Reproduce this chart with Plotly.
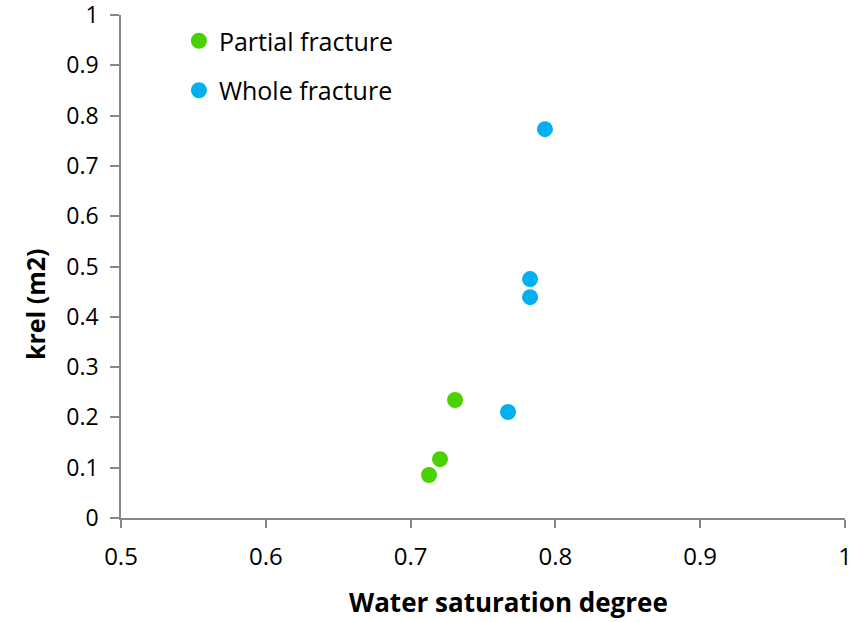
import plotly.graph_objects as go

partial_x = [0.7127, 0.7203, 0.7307]
partial_y = [0.0855, 0.117, 0.2346]
whole_x = [0.7673, 0.7825, 0.7825, 0.7928]
whole_y = [0.2107, 0.439, 0.475, 0.773]
x_ticks = [0.5, 0.6, 0.7, 0.8, 0.9, 1.0]
x_labels = ["0.5", "0.6", "0.7", "0.8", "0.9", "1"]
y_ticks = [0, 0.1, 0.2, 0.3, 0.4, 0.5, 0.6, 0.7, 0.8, 0.9, 1.0]
y_labels = ["0", "0.1", "0.2", "0.3", "0.4", "0.5", "0.6", "0.7", "0.8", "0.9", "1"]
x_title = "Water saturation degree"
y_title = "krel (m2)"

font = "Open Sans, Noto Sans, sans-serif"
axcol = "#868686"

fig = go.Figure()
fig.add_trace(go.Scatter(x=partial_x, y=partial_y, mode="markers", name="Partial fracture",
                         legendgroup="a",
                         marker=dict(color="#4BD000", size=16, line=dict(width=0))))
fig.add_trace(go.Scatter(x=whole_x, y=whole_y, mode="markers", name="Whole fracture",
                         legendgroup="b",
                         marker=dict(color="#00B0F0", size=16, line=dict(width=0))))

fig.update_layout(
    width=852, height=622,
    margin=dict(l=121, r=7, t=15, b=104),
    plot_bgcolor="white", paper_bgcolor="white",
    font=dict(family=font, size=24, color="black"),
    showlegend=True,
    legend=dict(x=0.08, y=0.994, xanchor="left", yanchor="top",
                font=dict(size=25, family=font), tracegroupgap=14,
                bgcolor="rgba(0,0,0,0)"),
    xaxis=dict(range=[0.5, 1.0], tickvals=x_ticks, ticktext=x_labels, automargin=False,
               showgrid=False, zeroline=False, showline=True, linecolor=axcol, linewidth=1.5,
               ticks="outside", tickcolor=axcol, ticklen=8, tickwidth=1.5,
               ticklabelstandoff=8, ticklabeloverflow="allow"),
    yaxis=dict(range=[0, 1.0], tickvals=y_ticks, ticktext=y_labels, automargin=False,
               showgrid=False, zeroline=False, showline=True, linecolor=axcol, linewidth=1.5,
               ticks="outside", tickcolor=axcol, ticklen=9, tickwidth=1.5,
               ticklabelstandoff=7, ticklabeloverflow="allow",
               tickfont=dict(size=23, family=font)),
    annotations=[
        dict(text="<b>" + x_title + "</b>", xref="paper", yref="paper", x=0.535, y=-0.167,
             xanchor="center", yanchor="middle", showarrow=False, font=dict(size=26, family=font)),
        dict(text="<b>" + y_title + "</b>", xref="paper", yref="paper", x=-0.1188, y=0.4254,
             xanchor="center", yanchor="middle", textangle=-90, showarrow=False,
             font=dict(size=25, family=font)),
    ],
)

fig.write_html("out.html", config={"displayModeBar": False},
               post_script="document.body.style.margin='0';")
